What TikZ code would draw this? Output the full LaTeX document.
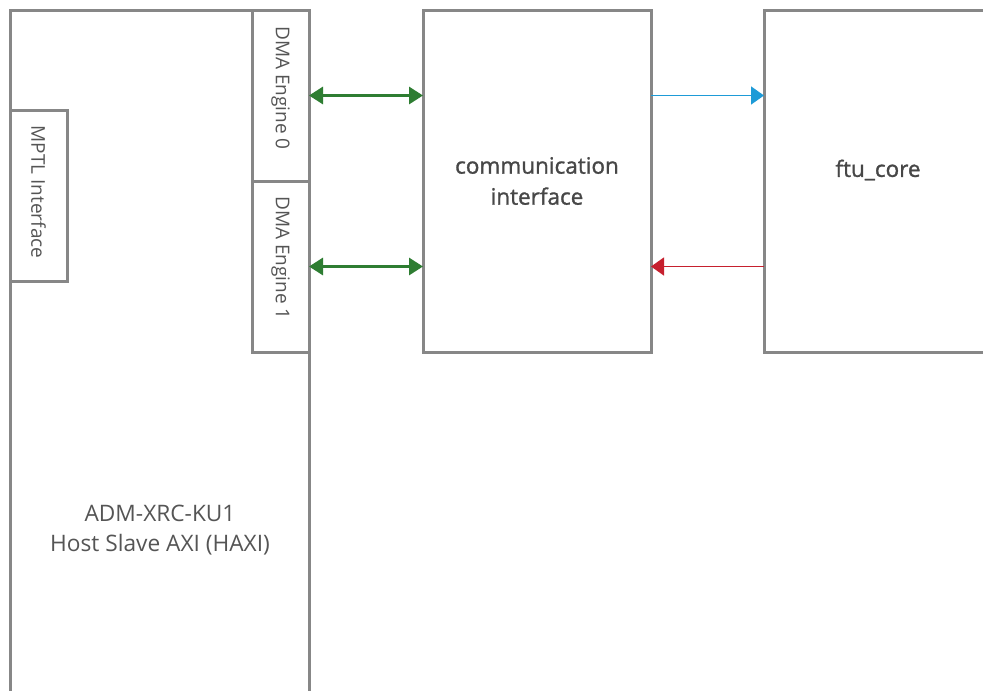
\documentclass[tikz,border=0pt]{standalone}
\usepackage{fontspec}
\usepackage{graphicx}
\setmainfont{Open Sans}
\newfontfamily\semibfont[FakeBold=1.2]{Open Sans}
\usetikzlibrary{arrows.meta}
\definecolor{boxgray}{HTML}{878787}
\definecolor{txtgray}{HTML}{555555}
\definecolor{darktxt}{HTML}{474747}
\definecolor{arrgreen}{HTML}{2E7D32}
\definecolor{arrblue}{HTML}{1E9BD7}
\definecolor{arrred}{HTML}{C6202E}
\begin{document}
\begin{tikzpicture}[x=1pt,y=-1pt,
  block/.style={draw=boxgray, line width=3pt, inner sep=0pt, outer sep=0pt, fill=white},
  lbl/.style={text=txtgray, font=\fontsize{22.7}{30}\selectfont, align=center, inner sep=0pt},
  biglbl/.style={text=darktxt, font=\semibfont\fontsize{22.5}{31}\selectfont, align=center, inner sep=0pt},
  vlbl/.style={text=txtgray, font=\fontsize{19}{22}\selectfont, inner sep=0pt},
  biarrow/.style={draw=arrgreen, line width=3pt, {Triangle[length=14pt,width=17pt]}-{Triangle[length=14pt,width=17pt]}},
  bluearrow/.style={draw=arrblue, line width=1.5pt, -{Triangle[length=13pt,width=18pt]}},
  redarrow/.style={draw=arrred, line width=1.5pt, -{Triangle[length=13pt,width=18pt]}}]
\useasboundingbox (0,0) rectangle (983,691);
\fill[white] (0,0) rectangle (983,691);
% main boxes
\node[block, anchor=north west, minimum width=299pt, minimum height=720pt] (haxi) at (10,10) {};
\node[block, anchor=north west, minimum width=57pt, minimum height=171pt] (dma0) at (252,10) {};
\node[block, anchor=north west, minimum width=57pt, minimum height=171pt] (dma1) at (252,181) {};
\node[block, anchor=north west, minimum width=57pt, minimum height=171pt] (mptl) at (10,110) {};
\node[block, anchor=north west, minimum width=228pt, minimum height=342pt] (comm) at (423,10) {};
\node[block, anchor=north west, minimum width=240pt, minimum height=342pt] (ftu) at (764,10) {};
% labels
\node[vlbl] (dma0lbl) at (280.5,88) {\rotatebox{-90}{DMA Engine 0}};
\node[vlbl] (dma1lbl) at (280.5,258) {\rotatebox{-90}{DMA Engine 1}};
\node[vlbl] (mptllbl) at (38.5,192) {\rotatebox{-90}{MPTL Interface}};
\node[lbl] (haxilbl) at (160,530) {ADM-XRC-KU1\\Host Slave AXI (HAXI)};
\node[biglbl] (commlbl) at (537,181) {communication\\interface};
\node[biglbl] (ftulbl) at (878,170) {ftu\_core};
% connectors
\draw[biarrow] (dma0.east) -- (dma0.east -| comm.west);
\draw[biarrow] (dma1.east) -- (dma1.east -| comm.west);
\draw[bluearrow] (comm.east |- dma0.east) -- (ftu.west |- dma0.east);
\draw[redarrow] (ftu.west |- dma1.east) -- (comm.east |- dma1.east);
\end{tikzpicture}
\end{document}
